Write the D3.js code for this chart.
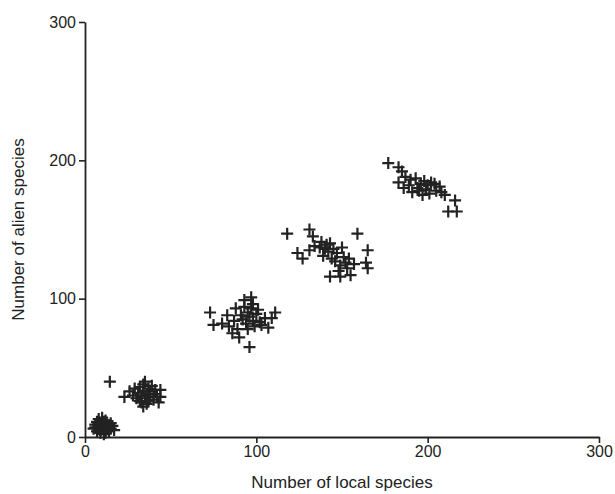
<!DOCTYPE html>
<html>
<head>
<meta charset="utf-8">
<script src="https://cdn.jsdelivr.net/npm/d3@7"></script>
<style>
  body { margin: 0; background: #fff; }
  svg text { font-family: "Liberation Sans", Arial, sans-serif; }
</style>
</head>
<body>
<svg id="chart"></svg>
<script>
// axis ticks
const xTicks = [0, 100, 200, 300];
const yTicks = [0, 100, 200, 300];

// sites grouped in five clusters: [local, alien]
const clusterA = [[5,6],[6,9],[7,4],[7,11],[8,7],[8,13],[9,3],[9,9],[10,6],[10,10],[11,2],[11,8],[12,5],[12,12],
  [13,7],[13,9],[14,4],[15,6],[15,10],[16,8],[9,5],[10,14],[11,11],[12,3],[17,5],[6,7],[14,8],[8,10]];
const clusterB = [[14.5,40],[23,29],[26,33],[28,30],[29,35],[30,28],[31,32],[32,36],[32,26],[33,30],[34,38],[34,33],
  [35,28],[35,40],[36,31],[36,24],[37,35],[38,29],[38,33],[39,37],[40,27],[40,31],[41,34],[42,29],[43,25],[44,34],
  [44,29],[34,22],[33,25],[37,26],[31,30]];
const clusterC = [[73,90],[75,81],[80,82],[83,88],[84,80],[86,75],[87,84],[88,93],[89,78],[90,72],[91,88],[92,85],
  [93,99],[94,82],[95,90],[95,78],[96,65],[96,87],[97,101],[97,93],[98,84],[99,80],[100,89],[101,92],[102,83],
  [103,81],[105,86],[107,79],[109,86],[111,90],[93,94],[98,96]];
const clusterD = [[118,147],[124,133],[127,129],[131,150],[133,145],[131,135],[134,138],[137,137],[138,141],[139,131],
  [140,136],[141,139],[142,134],[143,140],[144,129],[145,136],[146,127],[147,133],[148,120],[149,124],[149,116],
  [150,137],[151,130],[152,126],[153,122],[154,129],[155,117],[157,125],[159,147],[165,135],[164,126],[165,122],[143,116]];
const clusterE = [[177,198],[183,195],[185,192],[183,184],[186,180],[187,188],[190,186],[191,177],[193,187],[194,180],
  [196,183],[197,175],[198,185],[199,179],[200,182],[201,176],[202,184],[204,183],[205,178],[207,181],[208,177],
  [210,175],[212,163],[216,171],[217,163],[189,182],[195,178]];

const points = [].concat(clusterA, clusterB, clusterC, clusterD, clusterE);

const width = 615, height = 494;
const margin = { top: 22, right: 16, bottom: 57, left: 85 };

const svg = d3.select('#chart').attr('width', width).attr('height', height);

const x = d3.scaleLinear().domain([0, 300]).range([margin.left, width - margin.right]);
const y = d3.scaleLinear().domain([0, 300]).range([height - margin.bottom, margin.top]);

const ink = '#222';

// x axis
const gx = svg.append('g')
    .attr('transform', `translate(0, ${y(0)})`)
    .call(d3.axisBottom(x).tickValues(xTicks).tickSize(6).tickSizeOuter(0).tickPadding(3));
// y axis
const gy = svg.append('g')
    .attr('transform', `translate(${x(0)}, 0)`)
    .call(d3.axisLeft(y).tickValues(yTicks).tickSize(6).tickSizeOuter(0).tickPadding(3));

[gx, gy].forEach(g => {
    g.select('.domain').attr('stroke', ink).attr('stroke-width', 1.8);
    g.selectAll('.tick line').attr('stroke', ink).attr('stroke-width', 1.6);
    g.selectAll('.tick text').attr('fill', ink).style('font-size', '16px');
});

// markers
const half = 6;
const marks = svg.append('g').attr('stroke', ink).attr('stroke-width', 2.2);
marks.selectAll('path')
    .data(points)
    .enter()
    .append('path')
    .attr('d', d => {
        const cx = x(d[0]), cy = y(d[1]);
        return `M${cx - half},${cy}H${cx + half}M${cx},${cy - half}V${cy + half}`;
    });

// axis titles
svg.append('text')
    .attr('x', (margin.left + width - margin.right) / 2)
    .attr('y', 488)
    .attr('text-anchor', 'middle')
    .attr('fill', ink)
    .style('font-size', '17px')
    .text('Number of local species');

svg.append('text')
    .attr('transform', `translate(24, ${(margin.top + height - margin.bottom) / 2}) rotate(-90)`)
    .attr('text-anchor', 'middle')
    .attr('fill', ink)
    .style('font-size', '17px')
    .text('Number of alien species');
</script>
</body>
</html>
